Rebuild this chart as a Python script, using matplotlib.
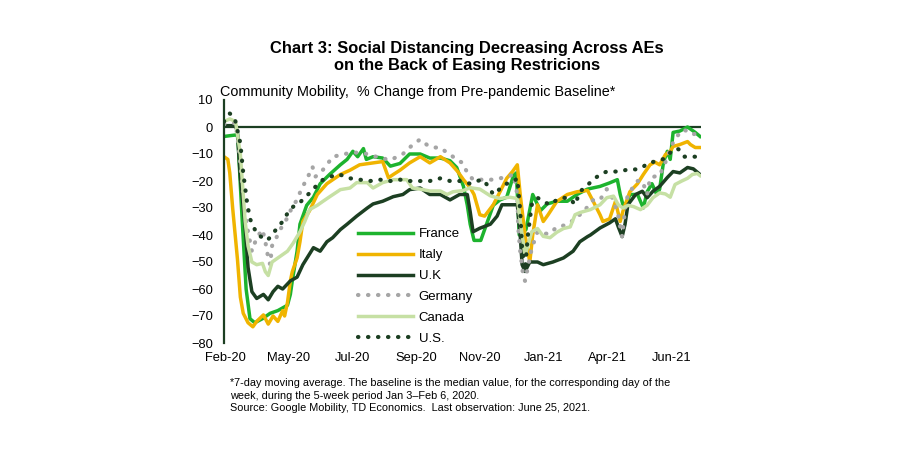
import numpy as np
import matplotlib
matplotlib.use("Agg")
import matplotlib.pyplot as plt

plt.rcParams['font.family'] = ['Liberation Sans', 'DejaVu Sans']

#----------------------------------------------------------------------------------------
# Data: days since Feb 15, 2020 and % change from baseline
#----------------------------------------------------------------------------------------
france_days = [0, 11, 14, 15, 19, 23, 27, 32, 40, 48, 56, 66, 69, 71, 76, 79, 86, 93, 100, 110,
               121, 128, 134, 139, 145, 148, 155, 165, 173, 183, 193, 204, 214, 225, 235, 242,
               249, 253, 256, 260, 267, 271, 280, 287, 294, 301, 304, 307, 314, 321, 329, 336,
               346, 357, 367, 378, 391, 401, 409, 412, 415, 419, 422, 430, 436, 440, 445, 450,
               453, 457, 461, 464, 467, 474, 482, 490, 495]
france = [-3.5, -3, -3, -8, -35, -60, -71, -72.5, -71, -69, -68, -66, -62, -57, -46, -36, -29, -26,
          -21, -17.5, -14, -12, -9, -11, -8, -12, -11, -11.5, -14.5, -13.5, -10, -10, -11.5, -11.5,
          -12.5, -15, -22, -29, -36, -42, -42, -38, -29, -27, -26, -18, -17, -40, -38, -25, -31,
          -28.5, -27.5, -27.5, -25, -23, -22, -20.7, -19.5, -25, -29, -28, -25, -25, -30, -24, -21,
          -25, -23, -13, -9, -12, -2, -1.5, 0, -2, -3.5]

italy_days = [0, 4, 6, 9, 14, 17, 20, 25, 30, 34, 41, 46, 51, 56, 61, 63, 66, 69, 71, 76, 79, 82,
              89, 97, 107, 121, 131, 141, 155, 165, 171, 176, 183, 193, 204, 214, 225, 235, 243,
              249, 256, 260, 266, 271, 280, 287, 294, 300, 305, 308, 313, 318, 321, 326, 332, 337,
              346, 357, 367, 378, 384, 391, 394, 401, 407, 412, 415, 422, 430, 436, 443, 448, 453,
              459, 464, 467, 474, 482, 485, 490, 495]
italy = [-11, -12, -17, -30, -49, -63, -69, -72.5, -74, -72, -69.6, -73, -70, -72, -68, -70, -65,
         -57, -53.6, -48.5, -42.5, -35, -31, -25, -21, -17.6, -16, -14, -13.3, -12.8, -18.8, -17.6,
         -16, -13.3, -11, -13.3, -11, -13.3, -16.5, -19.5, -22.5, -25, -32.5, -33, -28.8, -24, -19,
         -16.5, -14, -25, -40, -50, -40, -28.8, -35, -32.5, -27.6, -25, -24, -23.5, -27.6, -32.5,
         -35, -34, -27.6, -35, -31, -24, -21, -17.6, -14, -13, -14, -10.2, -9, -7.2, -6.5, -5.4,
         -6.5, -7.6, -7.6]

uk_days = [0, 12, 14, 17, 22, 25, 29, 34, 41, 46, 51, 56, 61, 69, 76, 82, 93, 100, 107, 113, 121,
           128, 138, 149, 155, 165, 176, 186, 193, 204, 214, 225, 235, 245, 253, 256, 259, 266,
           277, 284, 289, 297, 305, 308, 310, 313, 318, 326, 332, 342, 353, 363, 370, 378, 381,
           391, 401, 407, 410, 414, 417, 420, 428, 435, 440, 446, 453, 461, 467, 474, 482, 488, 495]
uk = [0.5, 0.5, -2, -18.7, -37, -52, -61, -63.5, -62, -64, -61, -59, -60, -57, -55.6, -51, -44.7,
      -46, -42.5, -41, -38, -36, -33, -30, -28.5, -27.5, -25.8, -25, -23.2, -22.6, -25, -25, -27,
      -25, -25, -31.4, -38.8, -37.5, -36, -33, -28.8, -28.8, -28.8, -40, -51, -53.5, -50, -50,
      -51, -50, -48.5, -46, -42.5, -40.6, -40, -37.4, -35.5, -34, -37, -40.6, -36, -28.8, -25,
      -23.8, -26.2, -23.8, -22, -18.7, -16.5, -17, -15, -15.5, -17.6]

germany_days = [0, 12, 15, 20, 24, 29, 34, 40, 43, 46, 48, 50, 55, 60, 66, 71, 76, 81, 86, 92, 95,
                100, 105, 113, 124, 131, 141, 149, 155, 165, 173, 180, 186, 193, 199, 204, 211,
                217, 225, 230, 235, 242, 248, 253, 259, 269, 280, 287, 294, 301, 305, 306, 308,
                311, 313, 316, 320, 326, 332, 339, 346, 353, 360, 367, 373, 378, 384, 391, 398,
                405, 410, 412, 414, 417, 420, 426, 430, 435, 440, 443, 448, 453, 457, 461, 464,
                467, 471, 477, 482, 487, 490, 495]
germany = [1, 1.5, -6.5, -25, -37, -46, -41, -38, -42.5, -48.5, -51, -44, -40.6, -37, -33.6, -29.5,
           -27, -22.5, -19.5, -14.7, -18.4, -17, -15, -11, -10.2, -9.5, -9.5, -10, -10.7, -11.6,
           -12.3, -11, -10, -7.6, -5.8, -4.6, -6.6, -7.6, -7.6, -9, -10, -12.3, -13.2, -17, -19.5,
           -19.5, -19.5, -19, -18.5, -17.6, -25, -37.5, -46, -54.7, -57, -52, -45, -38.8, -39.5,
           -39.5, -37, -36.5, -35.5, -33, -32, -29.5, -27, -27, -23, -27, -33, -37, -40.6, -30.6,
           -25, -22, -20, -20, -25, -19, -18.3, -18, -14.7, -11.4, -8, -5.8, -3.5, -1, -1.5, -2.8,
           -2.5, -4]

canada_days = [0, 6, 12, 17, 22, 25, 29, 34, 40, 43, 46, 50, 56, 66, 72, 79, 84, 89, 97, 103, 110,
               121, 131, 138, 149, 155, 165, 176, 190, 196, 204, 214, 225, 232, 238, 249, 256, 266,
               277, 287, 297, 305, 310, 313, 316, 320, 326, 332, 339, 346, 353, 360, 365, 370, 381,
               391, 398, 405, 410, 415, 420, 426, 433, 440, 446, 453, 459, 464, 469, 476, 482, 487,
               492, 495]
canada = [2, 3, 2, -10, -35, -44, -50, -51, -50.5, -53.6, -55, -50, -48.5, -46, -43, -38.8, -35,
          -30.6, -29, -27.5, -25.8, -23.2, -22.6, -20.6, -20.6, -22.6, -20.6, -19.5, -19.5, -22.6,
          -23, -23.7, -23.7, -25, -24, -23.5, -22.5, -23, -25.5, -26.5, -26, -26.5, -40, -47.5,
          -44, -38.8, -37.6, -40.5, -41, -39, -37.6, -37, -32.5, -31.7, -30.6, -28.8, -26.2, -25.6,
          -28.8, -30, -29, -29.5, -30.6, -29, -26.2, -24.4, -24.8, -26, -21.3, -20, -19, -17.6,
          -17.2, -18]

us_days = [0, 6, 11, 17, 20, 24, 27, 34, 40, 45, 50, 55, 61, 66, 72, 79, 84, 89, 98, 103, 110, 118,
           124, 131, 141, 152, 162, 173, 183, 193, 204, 214, 225, 235, 245, 256, 263, 269, 275, 280,
           284, 289, 294, 300, 305, 308, 310, 313, 316, 320, 326, 332, 339, 346, 353, 360, 365, 370,
           378, 384, 391, 398, 405, 412, 420, 428, 435, 441, 448, 456, 461, 466, 471, 474, 479,
           487, 495]
us = [2, 5, 3.5, -6, -17, -28, -34, -39.5, -41, -42, -40, -37.5, -35, -32, -29.5, -28, -26, -24.5,
      -21, -19.5, -18.5, -17.5, -18, -19, -19.5, -20, -19.5, -20, -19.5, -20, -20, -20, -19, -20,
      -20, -21, -20, -19.5, -22, -25, -24, -22, -21, -20.5, -19, -31, -45, -53, -40, -28.8, -26.2,
      -27.6, -28.8, -27, -26.2, -26.5, -28.8, -24, -21.5, -19.5, -17.6, -16.5, -16.5, -16.5,
      -15.7, -15.7, -15, -13.3, -12.8, -12, -11, -8.5, -8, -8.5, -11, -11, -11]

month_labels = ['Feb-20', 'May-20', 'Jul-20', 'Sep-20', 'Nov-20', 'Jan-21', 'Apr-21', 'Jun-21']

#----------------------------------------------------------------------------------------
# Colours
#----------------------------------------------------------------------------------------
DARK = '#1c3f22'
GREEN = '#1db32e'
GOLD = '#f0b400'
GREY = '#a5a5a5'
LIGHT = '#c6e0a4'

fig = plt.figure(figsize=(9, 4.55), dpi=100)
ax = fig.add_axes([224 / 900, 1 - 343 / 455, 477 / 900, 243 / 455])

dots = (0, (0.1, 2.3))
ax.plot(france_days, france, color=GREEN, lw=2.5, label='France')
ax.plot(italy_days, italy, color=GOLD, lw=2.5, label='Italy')
ax.plot(uk_days, uk, color=DARK, lw=2.5, label='U.K')
ax.plot(germany_days, germany, color=GREY, lw=3.0, ls=dots, dash_capstyle='round', label='Germany')
ax.plot(canada_days, canada, color=LIGHT, lw=2.5, label='Canada')
ax.plot(us_days, us, color=DARK, lw=3.0, ls=dots, dash_capstyle='round', label='U.S.')

ax.axhline(0, color=DARK, lw=1.6, zorder=1)

ax.set_xlim(0, 496)
ax.set_ylim(-80, 10)
ax.set_yticks(np.arange(-80, 11, 10))
ax.set_xticks(np.linspace(1, 465, len(month_labels)))
ax.set_xticklabels(month_labels)
ax.tick_params(axis='both', length=0, labelsize=9.3, colors='black')
ax.tick_params(axis='x', pad=6.5)
ax.tick_params(axis='y', pad=8)

for s in ['top', 'right', 'bottom']:
    ax.spines[s].set_visible(False)
ax.spines['left'].set_color(DARK)
ax.spines['left'].set_linewidth(1.6)
ax.set_facecolor('none')

leg = ax.legend(loc='upper left', bbox_to_anchor=(358 / 900, 1 - 228 / 455),
                bbox_transform=fig.transFigure, frameon=False, fontsize=9.5,
                handlelength=4.2, handletextpad=0.4, labelspacing=0.66,
                borderpad=0, borderaxespad=0)

#----------------------------------------------------------------------------------------
# Titles and notes
#----------------------------------------------------------------------------------------
fig.text(467 / 900, 1 - 57 / 455, 'Chart 3: Social Distancing Decreasing Across AEs\n'
         'on the Back of Easing Restricions', ha='center', va='center',
         fontsize=11.9, fontweight='bold', linespacing=1.22)
fig.text(220 / 900, 1 - 92 / 455, 'Community Mobility,  % Change from Pre-pandemic Baseline*',
         ha='left', va='center', fontsize=10.4)
fig.text(230 / 900, 1 - 378 / 455,
         '*7-day moving average. The baseline is the median value, for the corresponding day of the\n'
         'week, during the 5-week period Jan 3\u2013Feb 6, 2020.\n'
         'Source: Google Mobility, TD Economics.  Last observation: June 25, 2021.',
         ha='left', va='top', fontsize=7.85, linespacing=1.32)

fig.savefig('out.png', dpi=100, facecolor='white')
